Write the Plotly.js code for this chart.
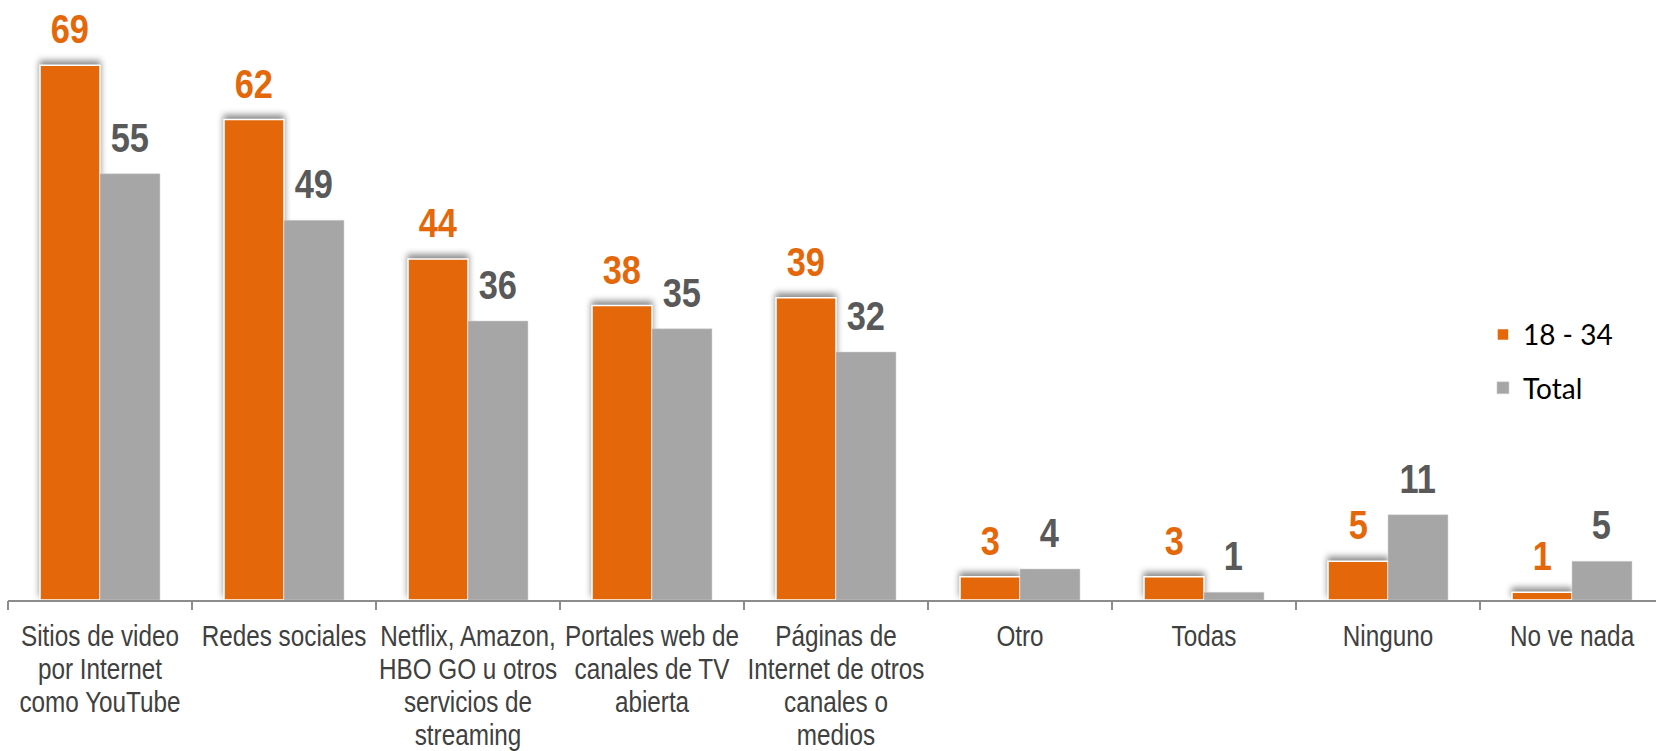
<!DOCTYPE html>
<html>
<head>
<meta charset="utf-8">
<script src="https://cdn.plot.ly/plotly-3.0.1.min.js"></script>
<style>
  html, body { margin: 0; padding: 0; background: #fff; overflow: hidden; }
  #chart { width: 1656px; height: 751px; }
</style>
</head>
<body>
<div id="chart"></div>
<script>
const categories = [
  "Sitios de video<br>por Internet<br>como YouTube",
  "Redes sociales",
  "Netflix, Amazon,<br>HBO GO u otros<br>servicios de<br>streaming",
  "Portales web de<br>canales de TV<br>abierta",
  "Páginas de<br>Internet de otros<br>canales o<br>medios",
  "Otro",
  "Todas",
  "Ninguno",
  "No ve nada"
];
const seriesNames = ["18 - 34", "Total"];
const young = [69, 62, 44, 38, 39, 3, 3, 5, 1];
const total = [55, 49, 36, 35, 32, 4, 1, 11, 5];

const ORANGE = "#E4680A";
const GRAY_BAR = "#A6A6A6";
const GRAY_TXT = "#595959";
const BARGAP = 0.348;
const labelFont = "'Liberation Sans Narrow', 'Arial Narrow', 'Liberation Sans', sans-serif";

const idx = categories.map((c, i) => i);

const traces = [
  {
    type: "bar", name: seriesNames[0], x: idx, y: young,
    marker: { color: ORANGE, line: { color: "#FFFFFF", width: 1.5 } },
    legendgroup: "a", hoverinfo: "skip"
  },
  {
    type: "bar", name: seriesNames[1], x: idx, y: total,
    marker: { color: GRAY_BAR, line: { color: "#D0D0D0", width: 0.5 } },
    legendgroup: "b", hoverinfo: "skip"
  }
];

const off = (1 - BARGAP) / 4;
const annotations = [];
young.forEach((v, i) => annotations.push({
  x: i - off, y: v, xref: "x", yref: "y", text: String(v), showarrow: false,
  yanchor: "bottom", xanchor: "center", yshift: 11,
  font: { family: labelFont, size: 41, color: ORANGE, weight: "bold" }
}));
total.forEach((v, i) => annotations.push({
  x: i + off, y: v, xref: "x", yref: "y", text: String(v), showarrow: false,
  yanchor: "bottom", xanchor: "center", yshift: 11,
  font: { family: labelFont, size: 41, color: GRAY_TXT, weight: "bold" }
}));

const plotW = 1656 - 8;
const layout = {
  width: 1656, height: 751,
  margin: { l: 8, r: 0, t: 0, b: 151, pad: 0 },
  paper_bgcolor: "#FFFFFF", plot_bgcolor: "#FFFFFF",
  barmode: "group", bargap: BARGAP, bargroupgap: 0,
  showlegend: true,
  legend: {
    x: 0.895, xanchor: "left", y: 0.398, yanchor: "middle",
    font: { family: "Lato, 'Open Sans', sans-serif", size: 28, color: "#000000" },
    bgcolor: "rgba(0,0,0,0)", tracegroupgap: 14, traceorder: "grouped"
  },
  xaxis: {
    type: "linear",
    range: [-0.5, -0.5 + plotW / 184],
    tickmode: "array", tickvals: idx, ticktext: categories, tickangle: 0,
    showgrid: false, zeroline: false,
    showline: true, linecolor: "#8C8C8C", linewidth: 1.5,
    ticks: "",
    tickfont: { family: labelFont, size: 30, color: "#404040" },
    ticklabelstandoff: 9
  },
  xaxis2: {
    overlaying: "x", matches: "x", range: [-0.5, -0.5 + plotW / 184],
    tickmode: "array", tickvals: idx.map(i => i + 0.5).concat([-0.5]),
    ticks: "outside", ticklen: 9, tickcolor: "#8C8C8C", tickwidth: 1.5,
    showticklabels: false, showgrid: false, zeroline: false, side: "bottom", anchor: "y"
  },
  yaxis: {
    range: [0, 600 / 7.75], visible: false, showgrid: false, zeroline: false, fixedrange: true
  },
  annotations: annotations
};

traces.push({ type: "scatter", x: [0], y: [0], xaxis: "x2", mode: "markers",
  marker: { opacity: 0 }, showlegend: false, hoverinfo: "skip" });

function squeeze(el, s) {
  const bb = el.getBBox();
  const cx = bb.x + bb.width / 2;
  const t = el.getAttribute("transform") || "";
  el.setAttribute("transform", `${t} translate(${cx},0) scale(${s},1) translate(${-cx},0)`);
}

Plotly.newPlot("chart", traces, layout, { displayModeBar: false, staticPlot: true }).then(() => {
  document.querySelectorAll(".xtick text tspan.line").forEach(t => {
    const dy = t.getAttribute("dy");
    if (dy && /em$/.test(dy)) {
      const v = parseFloat(dy);
      if (v > 0) t.setAttribute("dy", (v * 1.09 / 1.3).toFixed(3) + "em");
    }
  });
  document.querySelectorAll(".xtick text").forEach(el => squeeze(el, 0.81));
  document.querySelectorAll("text.annotation-text").forEach(el => squeeze(el, 0.84));
  const barTraces = document.querySelectorAll(".barlayer .trace");
  if (barTraces.length) {
    barTraces[0].querySelectorAll("path").forEach(p => {
      p.style.filter = "drop-shadow(0px -4px 3px rgba(0,0,0,0.45))";
    });
  }
});
</script>
</body>
</html>
